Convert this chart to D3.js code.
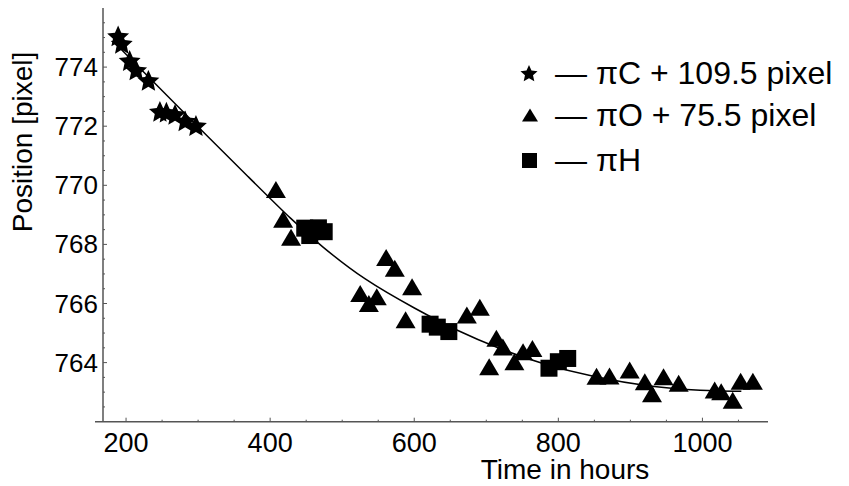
<!DOCTYPE html>
<html>
<head>
<meta charset="utf-8">
<script src="https://cdn.jsdelivr.net/npm/d3@7"></script>
<style>
  html, body { margin: 0; padding: 0; background: #fff; }
  svg { display: block; }
  text { font-family: "Liberation Sans", Arial, Helvetica, sans-serif; fill: #000; }
</style>
</head>
<body>
<svg id="chart" width="849" height="486"></svg>
<script>
// ---- data ----
const starHours = [189, 194, 205, 214, 231, 247, 256, 268, 282, 297];
const starPos   = [775.05, 774.8, 774.22, 773.9, 773.55, 772.5, 772.47, 772.4, 772.18, 772.02];

const triHours = [408, 418, 429, 525, 537, 548, 561, 573, 588, 597, 673, 691, 704, 714, 723, 739, 751, 764,
                  853, 871, 899, 920, 930, 946, 967, 1017, 1026, 1042, 1053, 1070];
const triPos   = [769.86, 768.85, 768.24, 766.34, 766.0, 766.23, 767.56, 767.19, 765.45, 766.57, 765.61, 765.87,
                  763.86, 764.82, 764.53, 764.03, 764.37, 764.48, 763.54, 763.55, 763.75, 763.35, 762.95, 763.52,
                  763.3, 763.07, 763.01, 762.73, 763.37, 763.37];

const sqHours = [448, 455, 467, 475, 622, 632, 648, 787, 800, 813];
const sqPos   = [768.55, 768.3, 768.56, 768.43, 765.3, 765.2, 765.05, 763.81, 764.03, 764.14];

const fitHours = [187, 240, 303, 370, 432, 469, 530, 603, 659, 720, 774, 850, 927, 1000, 1054];
const fitPos   = [774.75, 773.45, 771.9, 770.28, 768.78, 767.98, 766.8, 765.8, 765.08, 764.45, 763.98,
                  763.5, 763.18, 763.05, 763.03];

const xTickValues = [200, 400, 600, 800, 1000];
const yTickValues = [764, 766, 768, 770, 772, 774];
const legendLabels = ["\u2014 \u03C0C + 109.5 pixel", "\u2014 \u03C0O + 75.5 pixel", "\u2014 \u03C0H"];
const xTitle = "Time in hours";
const yTitle = "Position [pixel]";

// ---- layout ----
const svg = d3.select("#chart");
const x = d3.scaleLinear().domain([168, 1091]).range([103, 768]);
const y = d3.scaleLinear().domain([762, 776]).range([421.7, 8]);
const axisColor = "#555";

// axes lines
svg.append("line").attr("x1", 95).attr("x2", x.range()[1]).attr("y1", y(762)).attr("y2", y(762))
  .attr("stroke", axisColor).attr("stroke-width", 1.5);
svg.append("line").attr("x1", x(168)).attr("x2", x(168)).attr("y1", y(776)).attr("y2", y(762))
  .attr("stroke", axisColor).attr("stroke-width", 1.5);

// x ticks
const xMinor = d3.range(200, 1091, 50).filter(v => !xTickValues.includes(v));
svg.selectAll(".xmaj").data(xTickValues).enter().append("line")
  .attr("x1", d => x(d)).attr("x2", d => x(d)).attr("y1", y(762)).attr("y2", y(762) - 4)
  .attr("stroke", axisColor).attr("stroke-width", 1);
svg.selectAll(".xmin").data(xMinor).enter().append("line")
  .attr("x1", d => x(d)).attr("x2", d => x(d)).attr("y1", y(762)).attr("y2", y(762) - 2)
  .attr("stroke", axisColor).attr("stroke-width", 1);
svg.selectAll(".xlab").data(xTickValues).enter().append("text")
  .attr("x", d => x(d)).attr("y", 452).attr("text-anchor", "middle")
  .style("font-size", "27px").text(d => d);

// y ticks
const yMinor = d3.range(762.5, 776, 0.5).filter(v => !yTickValues.includes(v));
svg.selectAll(".ymaj").data(yTickValues).enter().append("line")
  .attr("x1", x(168)).attr("x2", x(168) + 4).attr("y1", d => y(d)).attr("y2", d => y(d))
  .attr("stroke", axisColor).attr("stroke-width", 1);
svg.selectAll(".ymin").data(yMinor).enter().append("line")
  .attr("x1", x(168)).attr("x2", x(168) + 2).attr("y1", d => y(d)).attr("y2", d => y(d))
  .attr("stroke", axisColor).attr("stroke-width", 1);
svg.selectAll(".ylab").data(yTickValues).enter().append("text")
  .attr("x", 98).attr("y", d => y(d) + 9).attr("text-anchor", "end")
  .style("font-size", "26px").text(d => d);

// titles
svg.append("text").attr("x", 565).attr("y", 479).attr("text-anchor", "middle")
  .style("font-size", "28px").text(xTitle);
svg.append("text").attr("transform", "translate(32,142) rotate(-90)").attr("text-anchor", "middle")
  .style("font-size", "28px").text(yTitle);

// fit line
const fit = fitHours.map((h, i) => [h, fitPos[i]]);
svg.append("path").datum(fit)
  .attr("d", d3.line().x(d => x(d[0])).y(d => y(d[1])).curve(d3.curveBasis))
  .attr("fill", "none").attr("stroke", "#000").attr("stroke-width", 1.5);

// marker shapes
function triPath(w, h) {
  return `M0,${-h/2}L${w/2},${h/2}L${-w/2},${h/2}Z`;
}
function starPath(r, ratio) {
  const pts = [];
  for (let i = 0; i < 10; i++) {
    const a = -Math.PI / 2 + i * Math.PI / 5;
    const rr = i % 2 === 0 ? r : r * ratio;
    pts.push([rr * Math.cos(a), rr * Math.sin(a)]);
  }
  return "M" + pts.map(p => p[0].toFixed(2) + "," + p[1].toFixed(2)).join("L") + "Z";
}

// triangles
svg.selectAll(".tri").data(triHours.map((h, i) => [h, triPos[i]])).enter().append("path")
  .attr("transform", d => `translate(${x(d[0])},${y(d[1])})`)
  .attr("d", triPath(20, 17)).attr("fill", "#000");
// squares
svg.selectAll(".sq").data(sqHours.map((h, i) => [h, sqPos[i]])).enter().append("rect")
  .attr("x", d => x(d[0]) - 8.5).attr("y", d => y(d[1]) - 8.5)
  .attr("width", 17).attr("height", 17).attr("fill", "#000");
// stars
svg.selectAll(".star").data(starHours.map((h, i) => [h, starPos[i]])).enter().append("path")
  .attr("transform", d => `translate(${x(d[0])},${y(d[1]) + 1})`)
  .attr("d", starPath(11.5, 0.47)).attr("fill", "#000");

// legend
const legY = [73, 115, 160];
const lg = svg.append("g");
lg.append("path").attr("transform", `translate(529,${legY[0] + 1})`).attr("d", starPath(9, 0.47)).attr("fill", "#000");
lg.append("path").attr("transform", `translate(530,${legY[1]})`).attr("d", triPath(16, 13)).attr("fill", "#000");
lg.append("rect").attr("x", 522).attr("y", legY[2] - 7).attr("width", 15).attr("height", 15).attr("fill", "#000");
lg.selectAll(".lt").data(legendLabels).enter().append("text")
  .attr("x", 555).attr("y", (d, i) => legY[i] + 11)
  .style("font-size", "32px").text(d => d);
</script>
</body>
</html>
